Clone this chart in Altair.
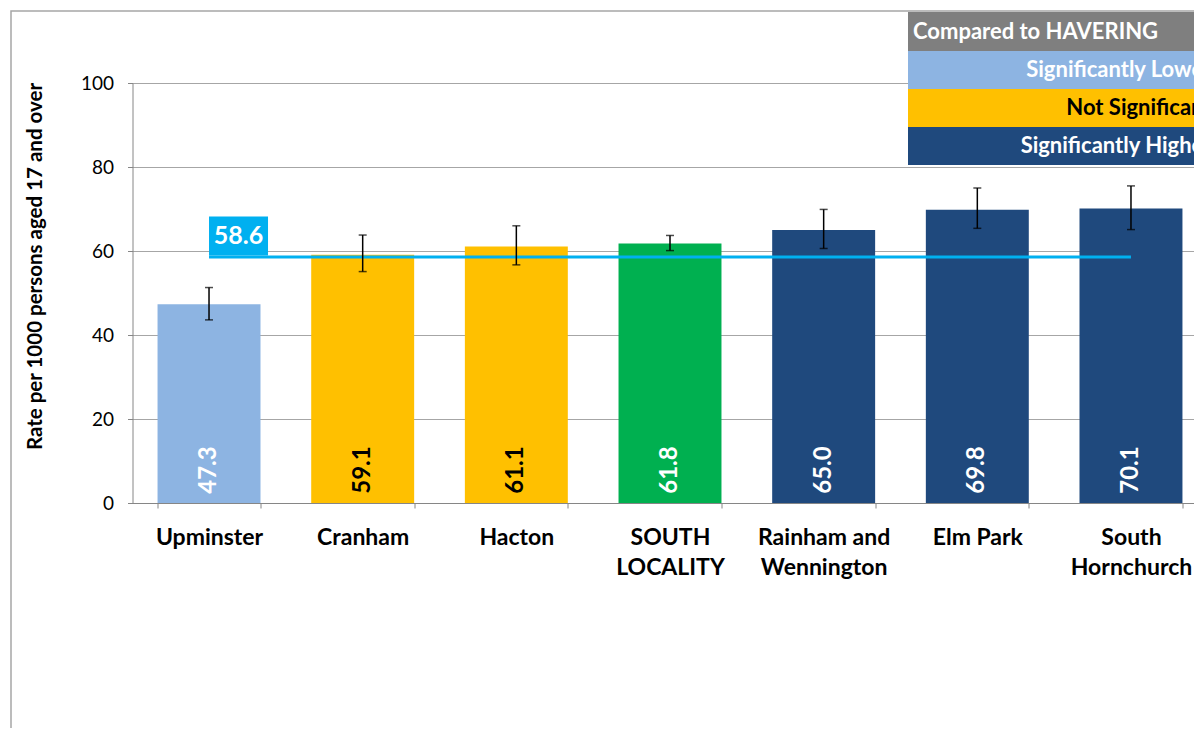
import altair as alt
import pandas as pd

# ---- data ----
categories = ["Upminster", "Cranham", "Hacton", "SOUTH LOCALITY",
              "Rainham and Wennington", "Elm Park", "South Hornchurch"]
values = [47.3, 59.1, 61.1, 61.8, 65.0, 69.8, 70.1]
ci_lower = [43.6, 55.1, 56.7, 60.1, 60.6, 65.4, 65.1]
ci_upper = [51.3, 63.8, 66.0, 63.7, 69.9, 75.0, 75.5]
groups = ["Significantly Lower", "Not Significant", "Not Significant", "Locality",
          "Significantly Higher", "Significantly Higher", "Significantly Higher"]
havering_avg = 58.6
y_ticks = [0, 20, 40, 60, 80, 100]

group_names = ["Significantly Lower", "Not Significant", "Locality", "Significantly Higher"]
group_colors = ["#8DB4E2", "#FFC000", "#00B050", "#1F497D"]

legend_title = "Compared to HAVERING"
legend_labels = ["Significantly Lower", "Not Significant", "Significantly Higher"]
legend_fills = ["#8DB4E2", "#FFC000", "#1F497D"]
legend_text_colors = ["white", "black", "white"]

wrap = {"SOUTH LOCALITY": ["SOUTH", "LOCALITY"],
        "Rainham and Wennington": ["Rainham and", "Wennington"],
        "South Hornchurch": ["South", "Hornchurch"]}

df = pd.DataFrame({"area": categories, "value": values, "lo": ci_lower,
                   "hi": ci_upper, "group": groups, "avg": havering_avg})

FONT = "Lato"
GRAY = "#868686"

# label expression for multi-line labels
expr = "datum.value"
for k, v in reversed(list(wrap.items())):
    arr = "[" + ",".join("'%s'" % s for s in v) + "]"
    expr = "datum.value == '%s' ? %s : (%s)" % (k, arr, expr)

x_enc = alt.X("area:N", sort=categories,
              scale=alt.Scale(range=[0, 1075], paddingInner=0.33, paddingOuter=0.163),
              axis=alt.Axis(title=None, labelAngle=0, labelFont=FONT, labelFontWeight="bold",
                            labelFontSize=23, labelColor="black", labelPadding=18,
                            labelLineHeight=30, labelExpr=expr, tickBand="extent",
                            tickSize=5, tickColor=GRAY, domainColor=GRAY, grid=False,
                            labelBaseline="top"))

y_enc = alt.Y("value:Q", scale=alt.Scale(domain=[0, 100], nice=False),
              axis=alt.Axis(values=y_ticks, title="Rate per 1000 persons aged  17 and over",
                            labelFont=FONT, labelFontSize=19, labelColor="black",
                            labelPadding=14, tickSize=5, tickColor=GRAY, domainColor=GRAY,
                            gridColor="#A6A6A6", gridWidth=1,
                            titleFont=FONT, titleFontSize=20.5, titleFontWeight="bold",
                            titleColor="black", titleAngle=270, titleX=-97.5, titleY=183,
                            titleAlign="center", titleBaseline="middle"))

base = alt.Chart(df)

one = alt.Data(values=[{"k": 1}])

frame = alt.Chart(one).mark_rect(fill="transparent", stroke="#A6A6A6", strokeWidth=1.5).encode(
    x=alt.value(-121.5), x2=alt.value(1250), y=alt.value(-72), y2=alt.value(760))

bars = base.mark_bar().encode(
    x=x_enc, y=y_enc,
    color=alt.Color("group:N", scale=alt.Scale(domain=group_names, range=group_colors), legend=None))

avg_line = base.mark_line(color="#00B0F0", strokeWidth=3).encode(
    x=alt.X("area:N", sort=categories), y=alt.Y("avg:Q"))

err_rule = base.mark_rule(color="black", strokeWidth=1.5).encode(
    x=alt.X("area:N", sort=categories), y=alt.Y("lo:Q"), y2="hi:Q")
err_hi = base.mark_tick(color="black", thickness=1.5, size=8).encode(
    x=alt.X("area:N", sort=categories), y=alt.Y("hi:Q"))
err_lo = base.mark_tick(color="black", thickness=1.5, size=8).encode(
    x=alt.X("area:N", sort=categories), y=alt.Y("lo:Q"))

val_text = base.mark_text(angle=270, font=FONT, fontWeight="bold", fontSize=24,
                          align="center", baseline="middle").encode(
    x=alt.X("area:N", sort=categories), y=alt.value(387),
    text=alt.Text("value:Q", format=".1f"),
    color=alt.condition(alt.datum.group == "Not Significant", alt.value("black"), alt.value("white")))

avg_box = alt.Chart(one).mark_rect(color="#00B0F0", width=59, height=39,
                                   xOffset=29.5, yOffset=-21).encode(
    x=alt.X(datum=categories[0], type="nominal"),
    y=alt.Y(datum=havering_avg, type="quantitative"))
avg_text = alt.Chart(one).mark_text(color="white", font=FONT, fontWeight="bold", fontSize=25,
                                    align="center", baseline="middle", dx=29.5, dy=-21).encode(
    x=alt.X(datum=categories[0], type="nominal"),
    y=alt.Y(datum=havering_avg, type="quantitative"),
    text=alt.value(f"{havering_avg:.1f}"))

# legend box (top right)
leg_layers = []
row_edges = [-71, -32, 6, 44, 82]
leg_layers.append(alt.Chart(one).mark_rect(color="#7F7F7F").encode(
    x=alt.value(775.5), x2=alt.value(1200), y=alt.value(row_edges[0]), y2=alt.value(row_edges[1])))
leg_layers.append(alt.Chart(one).mark_text(color="white", font=FONT, fontWeight="bold",
                                           fontSize=22, align="left", baseline="middle").encode(
    x=alt.value(780.5), y=alt.value((row_edges[0] + row_edges[1]) / 2), text=alt.value(legend_title)))
for i, (lab, fc, tc) in enumerate(zip(legend_labels, legend_fills, legend_text_colors)):
    y0, y1 = row_edges[i + 1], row_edges[i + 2]
    leg_layers.append(alt.Chart(one).mark_rect(color=fc).encode(
        x=alt.value(775.5), x2=alt.value(1200), y=alt.value(y0), y2=alt.value(y1)))
    leg_layers.append(alt.Chart(one).mark_text(color=tc, font=FONT, fontWeight="bold",
                                               fontSize=22, align="right", baseline="middle").encode(
        x=alt.value(1079), y=alt.value((y0 + y1) / 2), text=alt.value(lab)))

chart = alt.layer(frame, bars, avg_line, err_rule, err_hi, err_lo, val_text,
                  avg_box, avg_text, *leg_layers).properties(
    width=1061.5, height=420,
    autosize=alt.AutoSizeParams(type="none"),
    padding={"left": 124.5, "top": 75, "right": 0, "bottom": 225},
    background="white",
).configure_view(stroke=None)

chart.save("out.html", embed_options={"renderer": "svg", "actions": False})
